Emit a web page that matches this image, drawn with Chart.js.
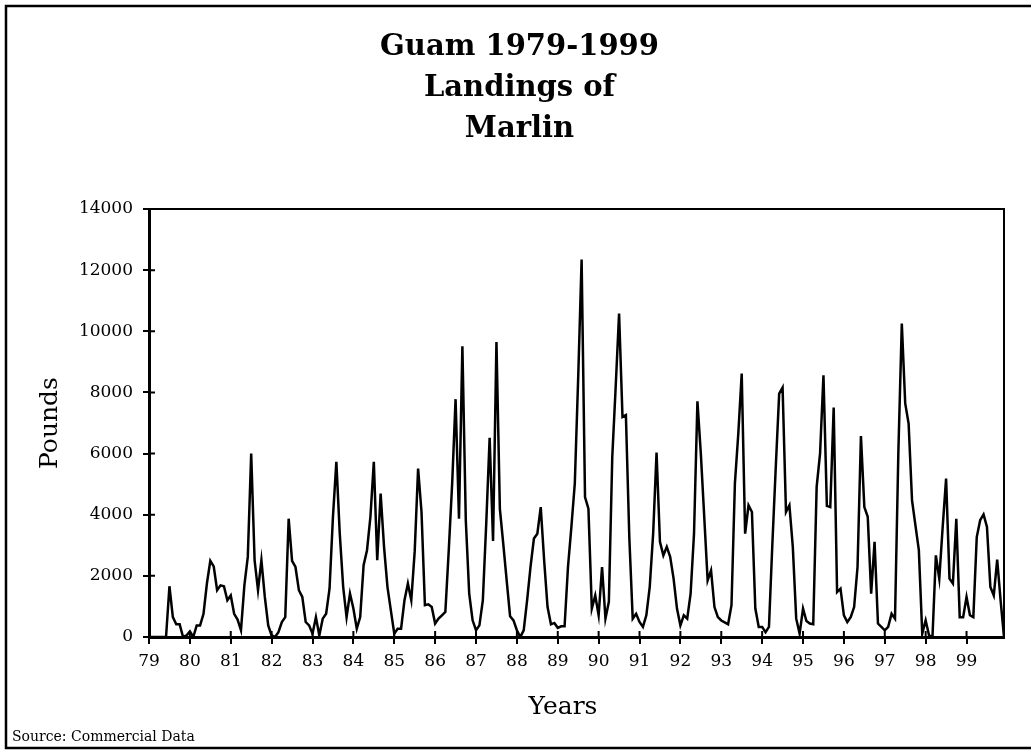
<!DOCTYPE html>
<html>
<head>
<meta charset="utf-8">
<title>Guam 1979-1999 Landings of Marlin</title>
<script src="https://cdn.jsdelivr.net/npm/chart.js@4.4.0/dist/chart.umd.min.js"></script>
<style>
  html, body { margin: 0; padding: 0; background: #fff; }
</style>
</head>
<body>
<canvas id="myChart" width="1031" height="750"></canvas>
<script>
// monthly landings (pounds), Jan..Dec of each year
var y1979 = [0, 0, 0, 0, 0, 0, 1660, 650, 415, 415, 0, 50];
var y1980 = [185, 0, 380, 380, 760, 1750, 2490, 2310, 1530, 1690, 1660, 1200];
var y1981 = [1360, 760, 570, 220, 1690, 2620, 6000, 2510, 1530, 2510, 1310, 380];
var y1982 = [50, 0, 160, 490, 650, 3870, 2490, 2290, 1530, 1310, 490, 380];
var y1983 = [110, 650, 50, 600, 760, 1580, 3930, 5730, 3380, 1640, 650, 1420];
var y1984 = [930, 270, 650, 2350, 2840, 3930, 5730, 2510, 4690, 2950, 1640, 870];
var y1985 = [110, 270, 270, 1200, 1750, 1200, 2800, 5510, 4090, 1040, 1070, 980];
var y1986 = [440, 600, 710, 820, 2840, 5020, 7780, 3870, 9510, 3820, 1420, 545];
var y1987 = [220, 380, 1200, 3710, 6520, 3140, 9650, 4200, 3050, 1850, 680, 545];
var y1988 = [220, 0, 220, 1200, 2290, 3220, 3380, 4250, 2510, 980, 415, 460];
var y1989 = [300, 350, 350, 2290, 3600, 5020, 8500, 12350, 4580, 4200, 930, 1360];
var y1990 = [710, 2290, 600, 1150, 5890, 8180, 10580, 7200, 7260, 3270, 600, 760];
var y1991 = [490, 330, 710, 1640, 3380, 6030, 3110, 2670, 2950, 2620, 1910, 930];
var y1992 = [380, 710, 600, 1420, 3380, 7710, 6000, 3930, 1850, 2180, 980, 650];
var y1993 = [540, 480, 415, 1040, 5020, 6650, 8620, 3380, 4310, 4090, 930, 330];
var y1994 = [330, 160, 330, 3050, 5560, 7960, 8160, 4090, 4310, 2950, 600, 110];
var y1995 = [930, 520, 440, 415, 4910, 6000, 8560, 4290, 4250, 7510, 1470, 1580];
var y1996 = [710, 490, 650, 980, 2290, 6570, 4250, 3930, 1420, 3110, 440, 330];
var y1997 = [220, 330, 760, 600, 6110, 10250, 7640, 6980, 4470, 3650, 2840, 110];
var y1998 = [545, 50, 0, 2670, 1910, 3600, 5180, 1910, 1750, 3870, 650, 650];
var y1999 = [1310, 710, 650, 3270, 3820, 4010, 3600, 1640, 1360, 2530, 1200, 0];

var yearLabels = ["79", "80", "81", "82", "83", "84", "85", "86", "87", "88", "89",
                  "90", "91", "92", "93", "94", "95", "96", "97", "98", "99"];
var yTicks = [0, 2000, 4000, 6000, 8000, 10000, 12000, 14000];
var titleLines = ["Guam 1979-1999", "Landings of", "Marlin"];
var xTitle = "Years";
var yTitle = "Pounds";
var sourceText = "Source: Commercial Data";

var landings = [].concat(y1979, y1980, y1981, y1982, y1983, y1984, y1985, y1986,
  y1987, y1988, y1989, y1990, y1991, y1992, y1993, y1994, y1995, y1996, y1997,
  y1998, y1999);

var points = landings.map(function(v, i) { return { x: i, y: v }; });

Chart.defaults.font.family = "'DejaVu Serif', serif";
Chart.defaults.color = "#000";

// white page, outer frame, plot box, inward ticks, x title and source note
var frame = {
  id: "frame",
  beforeDraw: function(chart) {
    var ctx = chart.ctx;
    ctx.save();
    ctx.fillStyle = "#fff";
    ctx.fillRect(0, 0, chart.width, chart.height);
    ctx.strokeStyle = "#000";
    ctx.lineWidth = 2.5;
    ctx.strokeRect(6, 6, chart.width + 20, chart.height - 8);
    ctx.restore();
  },
  afterDraw: function(chart) {
    var ctx = chart.ctx, a = chart.chartArea;
    var xs = chart.scales.x, ys = chart.scales.y;
    ctx.save();
    ctx.strokeStyle = "#000";
    ctx.lineWidth = 2;
    ctx.beginPath();
    ctx.moveTo(a.left, a.top);
    ctx.lineTo(a.right, a.top);
    ctx.lineTo(a.right, a.bottom);
    ctx.stroke();

    ctx.beginPath();
    xs.ticks.forEach(function(t) {
      var px = xs.getPixelForValue(t.value);
      ctx.moveTo(px, a.bottom);
      ctx.lineTo(px, a.bottom - 6);
    });
    ys.ticks.forEach(function(t) {
      var py = ys.getPixelForValue(t.value);
      ctx.moveTo(a.left, py);
      ctx.lineTo(a.left + 6, py);
    });
    ctx.stroke();

    ctx.fillStyle = "#000";
    ctx.textAlign = "center";
    ctx.textBaseline = "middle";
    ctx.font = "25px 'DejaVu Serif', serif";
    ctx.fillText(xTitle, 563, 707);

    ctx.textAlign = "left";
    ctx.textBaseline = "alphabetic";
    ctx.font = "14px 'DejaVu Serif', serif";
    ctx.fillText(sourceText, 12, 741);
    ctx.restore();
  }
};

var ctx = document.getElementById("myChart").getContext("2d");
var myChart = new Chart(ctx, {
  type: "line",
  data: {
    datasets: [{
      label: "Marlin",
      data: points,
      borderColor: "#000",
      borderWidth: 2.5,
      pointRadius: 0,
      tension: 0,
      fill: false
    }]
  },
  options: {
    responsive: false,
    animation: false,
    layout: { padding: { left: 35, right: 27, top: 0, bottom: 29 } },
    plugins: {
      legend: { display: false },
      tooltip: { enabled: false },
      title: {
        display: true,
        text: titleLines,
        color: "#000",
        font: { size: 29, weight: "bold", lineHeight: 1.414 },
        padding: { top: 26.5, bottom: 59.5 }
      }
    },
    scales: {
      x: {
        type: "linear",
        min: 0,
        max: landings.length - 1,
        afterFit: function(s) { s.height = 84; },
        grid: { drawOnChartArea: false, tickLength: 7, color: "#000", lineWidth: 2 },
        border: { color: "#000", width: 3 },
        ticks: {
          stepSize: 12,
          includeBounds: false,
          autoSkip: false,
          maxRotation: 0,
          padding: 7,
          font: { size: 17 },
          callback: function(v) {
            return v % 12 === 0 ? yearLabels[v / 12] : "";
          }
        }
      },
      y: {
        min: yTicks[0],
        max: yTicks[yTicks.length - 1],
        afterFit: function(s) { s.width = 114; },
        grid: { drawOnChartArea: false, tickLength: 6, color: "#000", lineWidth: 2 },
        border: { color: "#000", width: 3 },
        ticks: {
          stepSize: 2000,
          padding: 10,
          font: { size: 17 },
          callback: function(v) { return String(v); }
        },
        title: {
          display: true,
          text: yTitle,
          color: "#000",
          font: { size: 25 },
          padding: 0
        }
      }
    }
  },
  plugins: [frame]
});
</script>
</body>
</html>
